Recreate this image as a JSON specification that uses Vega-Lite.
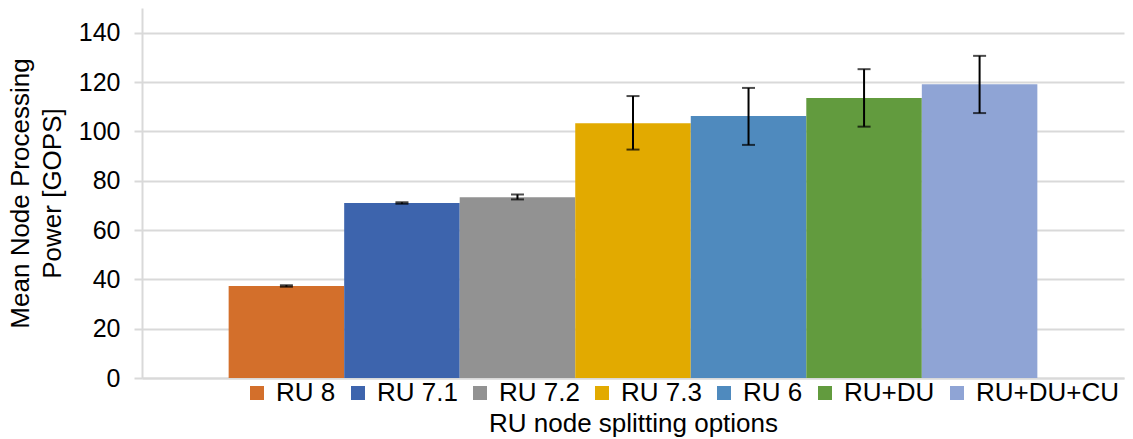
{
  "$schema": "https://vega.github.io/schema/vega-lite/v6.json",
  "autosize": {"type": "none"},
  "width": 982,
  "height": 370,
  "padding": {"left": 142, "top": 8, "right": 9, "bottom": 61},
  "background": "white",
  "config": {
    "font": "Liberation Sans",
    "view": {"stroke": null}
  },
  "data": {
    "values": [
      {"option": "RU 8", "value": 37.3, "lo": 37.0, "hi": 37.6},
      {"option": "RU 7.1", "value": 70.9, "lo": 70.6, "hi": 71.2},
      {"option": "RU 7.2", "value": 73.3, "lo": 72.4, "hi": 74.4},
      {"option": "RU 7.3", "value": 103.3, "lo": 92.6, "hi": 114.3},
      {"option": "RU 6", "value": 106.2, "lo": 94.5, "hi": 117.6},
      {"option": "RU+DU", "value": 113.5, "lo": 101.9, "hi": 125.2},
      {"option": "RU+DU+CU", "value": 119.1, "lo": 107.4, "hi": 130.6}
    ]
  },
  "encoding": {
    "x": {
      "field": "option",
      "type": "nominal",
      "sort": null,
      "scale": {"paddingInner": 0, "paddingOuter": 0.75},
      "axis": {
        "labels": false,
        "ticks": false,
        "domainColor": "#d9d9d9",
        "domainWidth": 2,
        "title": "RU node splitting options",
        "titleFontSize": 26,
        "titleFontWeight": "normal",
        "titleColor": "#000000",
        "titlePadding": 32
      }
    }
  },
  "layer": [
    {
      "mark": {"type": "bar"},
      "encoding": {
        "y": {
          "field": "value",
          "type": "quantitative",
          "scale": {"domain": [0, 150], "nice": false},
          "axis": {
            "values": [0, 20, 40, 60, 80, 100, 120, 140],
            "title": ["Mean Node Processing", "Power [GOPS]"],
            "titleFontSize": 26,
            "titleFontWeight": "normal",
            "titleColor": "#000000",
            "titleLineHeight": 32,
            "titlePadding": 13,
            "labelFontSize": 25,
            "labelColor": "#000000",
            "labelPadding": 14,
            "tickSize": 8,
            "tickColor": "#d9d9d9",
            "tickWidth": 2,
            "domainColor": "#d9d9d9",
            "domainWidth": 2,
            "gridColor": "#d9d9d9",
            "gridWidth": 2
          }
        },
        "color": {
          "field": "option",
          "type": "nominal",
          "sort": null,
          "scale": {
            "domain": ["RU 8", "RU 7.1", "RU 7.2", "RU 7.3", "RU 6", "RU+DU", "RU+DU+CU"],
            "range": ["#d36f2b", "#3d64ad", "#929292", "#e2aa00", "#4f8abe", "#629b3e", "#8fa4d5"]
          },
          "legend": {
            "orient": "none",
            "legendX": 102,
            "legendY": 372,
            "direction": "horizontal",
            "title": null,
            "symbolType": "square",
            "symbolSize": 196,
            "symbolStrokeWidth": 0,
            "labelFontSize": 26,
            "labelColor": "#000000",
            "labelOffset": 6,
            "columnPadding": 9,
            "labelLimit": 300
          }
        }
      }
    },
    {
      "mark": {"type": "rule", "color": "#000000", "strokeWidth": 2},
      "encoding": {
        "y": {"field": "lo", "type": "quantitative"},
        "y2": {"field": "hi"}
      }
    },
    {
      "mark": {"type": "tick", "color": "#000000", "thickness": 2, "size": 13},
      "encoding": {
        "y": {"field": "lo", "type": "quantitative"}
      }
    },
    {
      "mark": {"type": "tick", "color": "#000000", "thickness": 2, "size": 13},
      "encoding": {
        "y": {"field": "hi", "type": "quantitative"}
      }
    }
  ]
}
